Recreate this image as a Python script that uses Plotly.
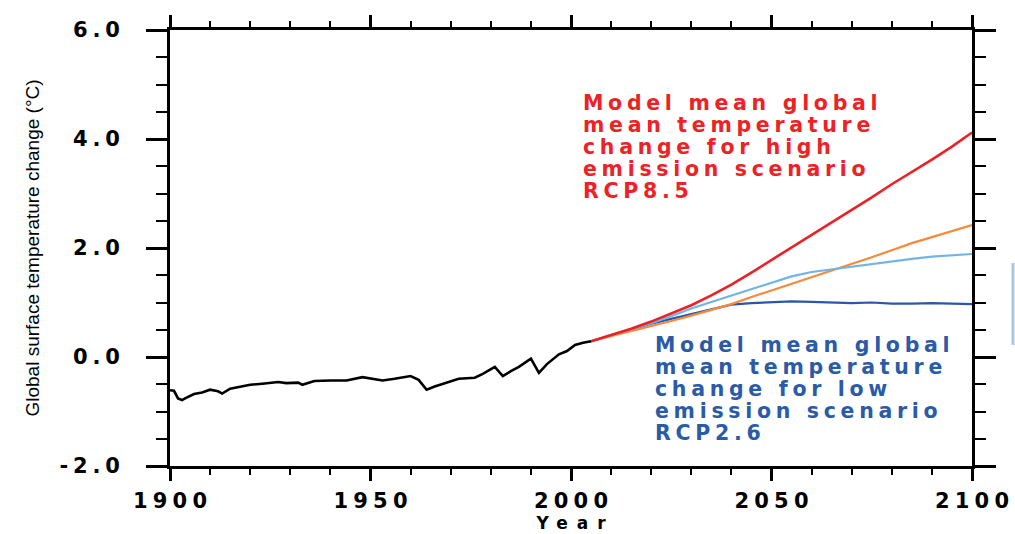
import plotly.graph_objects as go

# Historical model-mean global surface temperature change (deg C)
hist_years = [1900, 1901, 1902, 1903, 1904, 1906, 1908, 1910, 1912, 1913, 1915,
              1918, 1920, 1923, 1927, 1929, 1932, 1933, 1936, 1940, 1944, 1948,
              1950, 1953, 1956, 1960, 1962, 1964, 1966, 1968, 1972, 1976, 1978,
              1981, 1983, 1985, 1987, 1990, 1992, 1994, 1997, 1999, 2001, 2003,
              2005]
hist_temp = [-0.61, -0.62, -0.76, -0.79, -0.75, -0.68, -0.65, -0.60, -0.63, -0.67, -0.58,
             -0.54, -0.51, -0.49, -0.46, -0.48, -0.47, -0.51, -0.44, -0.43, -0.43, -0.37,
             -0.39, -0.43, -0.40, -0.35, -0.42, -0.60, -0.54, -0.49, -0.40, -0.38, -0.31,
             -0.18, -0.35, -0.26, -0.18, -0.03, -0.29, -0.13, 0.05, 0.11, 0.22, 0.26,
             0.29]

# Scenario projections
proj_years = [2005, 2010, 2015, 2020, 2025, 2030, 2035, 2040, 2045, 2050,
              2055, 2060, 2065, 2070, 2075, 2080, 2085, 2090, 2095, 2100]
rcp85 = [0.29, 0.40, 0.52, 0.65, 0.80, 0.95, 1.13, 1.33, 1.55, 1.78,
         2.00, 2.23, 2.47, 2.70, 2.93, 3.17, 3.39, 3.62, 3.86, 4.12]
rcp60 = [0.29, 0.38, 0.47, 0.56, 0.66, 0.76, 0.86, 0.97, 1.10, 1.22,
         1.34, 1.47, 1.59, 1.71, 1.83, 1.96, 2.09, 2.20, 2.31, 2.42]
rcp45 = [0.29, 0.40, 0.50, 0.62, 0.75, 0.89, 1.01, 1.13, 1.25, 1.37,
         1.48, 1.56, 1.61, 1.66, 1.71, 1.76, 1.80, 1.84, 1.86, 1.89]
rcp26 = [0.29, 0.40, 0.50, 0.61, 0.70, 0.79, 0.88, 0.96, 0.99, 1.00,
         1.02, 1.01, 1.00, 0.99, 1.00, 0.98, 0.98, 0.99, 0.98, 0.97]

x_tick_vals = [1900, 1950, 2000, 2050, 2100]
x_tick_labels = ["1900", "1950", "2000", "2050", "2100"]
y_tick_vals = [-2, 0, 2, 4, 6]
y_tick_labels = ["-2.0", "0.0", "2.0", "4.0", "6.0"]

high_lines = ["Model mean global", "mean temperature", "change for high",
              "emission scenario", "RCP8.5"]
low_lines = ["Model mean global", "mean temperature", "change for low",
             "emission scenario", "RCP2.6"]

WIDE_FONT = "DejaVu Sans"


def spaced(text, ls, size=None):
    """Widen text with letter spacing (no trailing gap after the last glyph)."""
    style = f"letter-spacing:{ls}px"
    if size is None:
        return f'<span style="{style}">{text[:-1]}</span>{text[-1]}'
    return (f'<span style="font-size:{size}px;{style}">{text[:-1]}</span>'
            f'<span style="font-size:{size}px">{text[-1]}</span>')


def block(lines):
    # glyphs at 20.5px on a 17px line pitch (1.3em -> ~22px between lines)
    return "<br>".join(spaced(t, 4.7, 20.5) for t in lines)


# plot-area geometry in pixels
L, T, W, H = 170, 30, 802, 436


def px_x(px):
    return (px - L) / W


def px_y(py):
    return (T + H - py) / H


fig = go.Figure()

series = [
    (rcp26, "#2a58a8", 2.2, "RCP2.6"),
    (rcp60, "#f7893b", 2.2, "RCP6.0"),
    (rcp45, "#74b4e4", 2.2, "RCP4.5"),
    (rcp85, "#ec2027", 2.6, "RCP8.5"),
]
for vals, color, width, name in series:
    fig.add_trace(go.Scatter(x=proj_years, y=vals, mode="lines", name=name,
                             line=dict(color=color, width=width)))

fig.add_trace(go.Scatter(x=hist_years, y=hist_temp, mode="lines", name="Historical",
                         line=dict(color="black", width=2.6)))

annotations = [
    dict(text=block(high_lines), xref="paper", yref="paper",
         x=px_x(581), y=px_y(147), xanchor="left", yanchor="middle", align="left",
         showarrow=False, font=dict(family=WIDE_FONT, size=17, color="#ee2224",
                                    weight="bold")),
    dict(text=block(low_lines), xref="paper", yref="paper",
         x=px_x(653), y=px_y(388.5), xanchor="left", yanchor="middle", align="left",
         showarrow=False, font=dict(family=WIDE_FONT, size=17, color="#2a5ba8",
                                    weight="bold")),
]

fig.update_layout(
    width=1015, height=534,
    margin=dict(l=L, r=1015 - L - W, t=T, b=534 - T - H),
    paper_bgcolor="white", plot_bgcolor="white",
    showlegend=False,
    annotations=annotations,
    shapes=[dict(type="line", xref="paper", yref="paper",
                 x0=px_x(1013), x1=px_x(1013), y0=px_y(345), y1=px_y(263),
                 line=dict(color="#a6c8e8", width=3))],
)

fig.update_xaxes(
    range=[1900, 2100], tickmode="array", tickvals=x_tick_vals,
    ticktext=[spaced(t, 5.2) for t in x_tick_labels],
    tickfont=dict(family=WIDE_FONT, size=21, color="black", weight="bold"),
    ticks="outside", ticklen=12, tickwidth=2.5, tickcolor="black",
    ticklabelstandoff=2,
    minor=dict(dtick=10, ticks="outside", ticklen=6, tickwidth=2, tickcolor="black"),
    showline=True, linewidth=3, linecolor="black", mirror="allticks",
    showgrid=False, zeroline=False, automargin=False,
    title=dict(text=spaced("Year", 9), standoff=2,
               font=dict(family=WIDE_FONT, size=17, color="black", weight="bold")),
)
fig.update_yaxes(
    range=[-2, 6], tickmode="array", tickvals=y_tick_vals,
    ticktext=[spaced(t, 4.8) for t in y_tick_labels],
    tickfont=dict(family=WIDE_FONT, size=21, color="black", weight="bold"),
    ticks="outside", ticklen=21, tickwidth=2.5, tickcolor="black",
    ticklabelstandoff=22,
    minor=dict(dtick=0.5, ticks="outside", ticklen=11, tickwidth=2, tickcolor="black"),
    showline=True, linewidth=3, linecolor="black", mirror="allticks",
    showgrid=False, zeroline=False, automargin=False,
    title=dict(text="Global surface temperature change (°C)", standoff=15,
               font=dict(family="Liberation Sans", size=19, color="black")),
)

fig.write_html("out.html")
